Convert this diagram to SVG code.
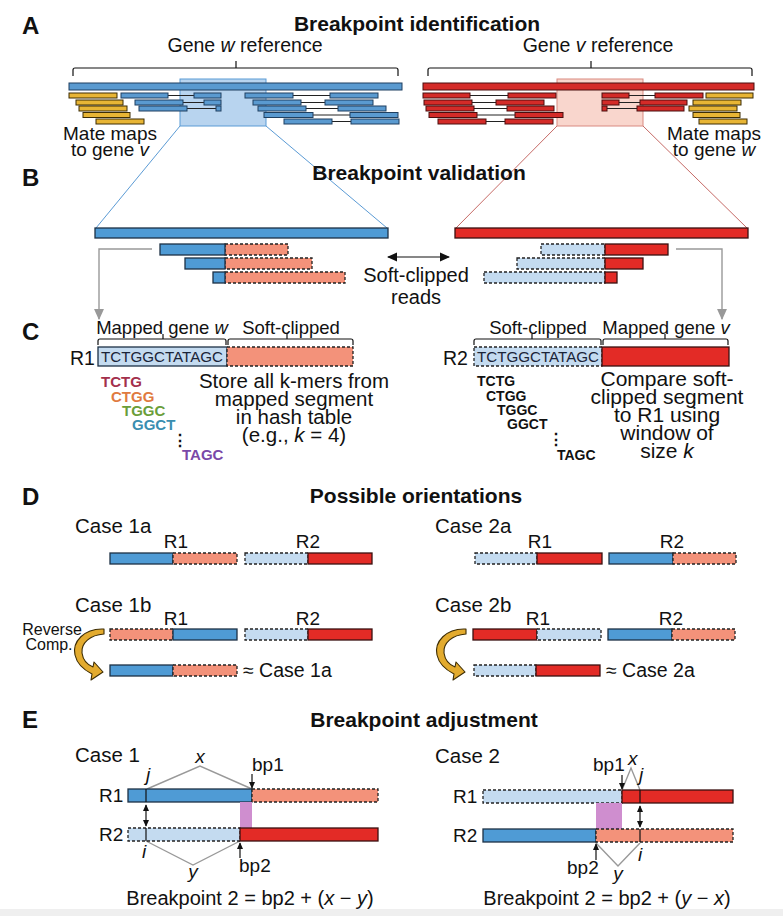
<svg xmlns="http://www.w3.org/2000/svg" width="783" height="916" viewBox="0 0 783 916">
<style>
text{font-family:"Liberation Sans",Arial,sans-serif;font-size:19px;fill:#111}
.sec{font-weight:bold;font-size:24px}
.ttl{font-weight:bold;font-size:21px}
.it{font-style:italic}
.mid{text-anchor:middle}
.big{font-size:20.5px}
.km{font-weight:bold;font-size:15px}
.seq{font-size:15px;fill:#1a2438}
.rb{fill:#4f9bd5;stroke:#1d3146;stroke-width:1.3}
.rr{fill:#e32b26;stroke:#3a1010;stroke-width:1.3}
.ds{fill:#f3927a;stroke:#222;stroke-width:1.3;stroke-dasharray:3 2}
.dl{fill:#c4dbf0;stroke:#222;stroke-width:1.3;stroke-dasharray:3 2}
.ay{fill:#e8b535;stroke:#3d2d05;stroke-width:1}
.ab{fill:#5a9ad0;stroke:#1f3f60;stroke-width:1}
.ar{fill:#d42b28;stroke:#4a0e0e;stroke-width:1}
.pl{stroke:#222;stroke-width:1;fill:none}
.br{stroke:#111;stroke-width:1.2;fill:none}
.gr{stroke:#999;stroke-width:1.4;fill:none}
.ln{stroke:#111;stroke-width:1.2;fill:none}
.pk{fill:#cf8ecf}
.cv{fill:#e3ab2e;stroke:#3d2d05;stroke-width:1.1;stroke-linejoin:round}
</style>
<defs>
<marker id="ak" viewBox="0 0 10 10" refX="9" refY="5" markerUnits="userSpaceOnUse" markerWidth="7" markerHeight="7" orient="auto-start-reverse"><path d="M0,0.5 L10,5 L0,9.5 z" fill="#111"/></marker>
<marker id="ak2" viewBox="0 0 10 10" refX="9" refY="5" markerUnits="userSpaceOnUse" markerWidth="10" markerHeight="10" orient="auto-start-reverse"><path d="M0,0.5 L10,5 L0,9.5 z" fill="#111"/></marker>
<marker id="ag" viewBox="0 0 10 10" refX="9" refY="5" markerUnits="userSpaceOnUse" markerWidth="11" markerHeight="11" orient="auto"><path d="M0,0.5 L10,5 L0,9.5 z" fill="#999"/></marker>
<path id="curl" class="cv" d="M104,629 C84,628 72,642 75,655 C77,664 84,670 92,674 L91,680 L103,672 L94,662 L93,667 C88,665 83,660 82,653 C81,643 90,635 104,634 Z"/>
</defs>
<rect width="783" height="916" fill="#fff"/>
<rect x="0" y="909" width="783" height="7" fill="#efefef"/>

<!-- Section A -->
<g id="secA">
<text class="sec" x="22" y="34">A</text>
<text class="ttl mid" x="417" y="31">Breakpoint identification</text>
<text class="mid" x="245" y="52" style="font-size:19.5px">Gene <tspan class="it">w</tspan> reference</text>
<text class="mid" x="598" y="52" style="font-size:19.5px">Gene <tspan class="it">v</tspan> reference</text>
<path class="br" d="M73,76 V70 Q73,68 75,68 H396 Q398,68 398,70 V76 M236,68 V61"/>
<path class="br" d="M428,76 V70 Q428,68 430,68 H750 Q752,68 752,70 V76 M591,68 V61"/>
</g>

<g id="geneW">
<rect x="180" y="79" width="86" height="47" fill="#b8d4ef" stroke="#5b9bd5" stroke-width="1"/>
<rect x="69" y="83" width="333" height="7" class="ab"/>
<g class="pl">
<line x1="168" y1="95.5" x2="194" y2="95.5"/><line x1="293" y1="95.5" x2="330" y2="95.5"/>
<line x1="183" y1="102.5" x2="204" y2="102.5"/><line x1="301" y1="102.5" x2="325" y2="102.5"/>
<line x1="187" y1="108.5" x2="216" y2="108.5"/><line x1="306" y1="108.5" x2="338" y2="108.5"/>
<line x1="313" y1="115" x2="350" y2="115"/>
<line x1="332" y1="121.5" x2="351" y2="121.5"/>
</g>
<rect class="ay" x="69" y="93" width="48" height="5"/>
<rect class="ay" x="76" y="100" width="47" height="5"/>
<rect class="ay" x="79" y="106" width="48" height="5"/>
<rect class="ay" x="83" y="112.5" width="47" height="5"/>
<rect class="ay" x="96" y="119" width="48" height="5"/>
<rect class="ab" x="121" y="93" width="47" height="5"/><rect class="ab" x="194" y="93" width="27" height="5"/>
<rect class="ab" x="245" y="93" width="48" height="5"/><rect class="ab" x="330" y="93" width="48" height="5"/>
<rect class="ab" x="135" y="100" width="48" height="5"/><rect class="ab" x="204" y="100" width="17" height="5"/>
<rect class="ab" x="253" y="100" width="48" height="5"/><rect class="ab" x="325" y="100" width="48" height="5"/>
<rect class="ab" x="139" y="106" width="48" height="5"/><rect class="ab" x="216" y="106" width="5" height="5"/>
<rect class="ab" x="258" y="106" width="48" height="5"/><rect class="ab" x="338" y="106" width="48" height="5"/>
<rect class="ab" x="264" y="112.5" width="49" height="5"/><rect class="ab" x="350" y="112.5" width="48" height="5"/>
<rect class="ab" x="284" y="119" width="48" height="5"/><rect class="ab" x="351" y="119" width="48" height="5"/>
<text class="mid" x="110" y="140">Mate maps<tspan x="110" dy="16">to gene </tspan><tspan class="it">v</tspan></text>
</g>

<g id="geneV">
<rect x="557" y="79" width="86" height="47" fill="#f9d6cd" stroke="#d98a80" stroke-width="1"/>
<rect x="423" y="83" width="331" height="7" class="ar"/>
<g class="pl">
<line x1="470" y1="95.5" x2="508" y2="95.5"/><line x1="629" y1="95.5" x2="655" y2="95.5"/>
<line x1="472" y1="102.5" x2="496" y2="102.5"/><line x1="619" y1="102.5" x2="640" y2="102.5"/>
<line x1="474" y1="108.5" x2="507" y2="108.5"/><line x1="607" y1="108.5" x2="637" y2="108.5"/>
<line x1="477" y1="115" x2="515" y2="115"/>
<line x1="486" y1="121.5" x2="505" y2="121.5"/>
</g>
<rect class="ar" x="423" y="93" width="47" height="5"/><rect class="ar" x="508" y="93" width="48" height="5"/>
<rect class="ar" x="602" y="93" width="27" height="5"/><rect class="ar" x="655" y="93" width="48" height="5"/>
<rect class="ar" x="424" y="100" width="48" height="5"/><rect class="ar" x="496" y="100" width="48" height="5"/>
<rect class="ar" x="602" y="100" width="17" height="5"/><rect class="ar" x="640" y="100" width="47" height="5"/>
<rect class="ar" x="426" y="106" width="48" height="5"/><rect class="ar" x="507" y="106" width="47" height="5"/>
<rect class="ar" x="602" y="106" width="5" height="5"/><rect class="ar" x="637" y="106" width="47" height="5"/>
<rect class="ar" x="429" y="112.5" width="48" height="5"/><rect class="ar" x="515" y="112.5" width="48" height="5"/>
<rect class="ar" x="438" y="119" width="48" height="5"/><rect class="ar" x="505" y="119" width="48" height="5"/>
<rect class="ay" x="706" y="93" width="47" height="5"/>
<rect class="ay" x="693" y="100" width="48" height="5"/>
<rect class="ay" x="689" y="106" width="48" height="5"/>
<rect class="ay" x="693" y="112.5" width="47" height="5"/>
<rect class="ay" x="699" y="119" width="48" height="5"/>
<text class="mid" x="714" y="140">Mate maps<tspan x="714" dy="16">to gene </tspan><tspan class="it">w</tspan></text>
</g>

<!-- connectors -->
<g id="connectors">
<line x1="180" y1="126" x2="96" y2="228" stroke="#5b9bd5" stroke-width="1"/>
<line x1="266" y1="126" x2="387" y2="228" stroke="#5b9bd5" stroke-width="1"/>
<line x1="557" y1="126" x2="456" y2="228" stroke="#c66a66" stroke-width="1"/>
<line x1="643" y1="126" x2="747" y2="228" stroke="#c66a66" stroke-width="1"/>
<path class="gr" d="M152,249 H99 V319" marker-end="url(#ag)"/>
<path class="gr" d="M676,249 H722 V319" marker-end="url(#ag)"/>
<line class="ln" x1="388" y1="257" x2="449" y2="257" stroke-width="1.5" marker-start="url(#ak2)" marker-end="url(#ak2)"/>
</g>

<!-- Section B -->
<g id="secB">
<text class="sec" x="22" y="186">B</text>
<text class="ttl mid" x="419" y="180">Breakpoint validation</text>
<rect class="rb" x="95" y="228" width="293" height="10"/>
<rect class="rr" x="455" y="228" width="293" height="10"/>
<rect class="ds" x="225" y="244" width="63" height="11"/><rect class="rb" x="160" y="244" width="65" height="11"/>
<rect class="ds" x="225" y="258" width="87" height="11"/><rect class="rb" x="185" y="258" width="40" height="11"/>
<rect class="ds" x="225" y="272" width="120" height="11"/><rect class="rb" x="213" y="272" width="12" height="11"/>
<rect class="dl" x="541" y="244" width="64" height="11"/><rect class="rr" x="605" y="244" width="63" height="11"/>
<rect class="dl" x="517" y="258" width="88" height="11"/><rect class="rr" x="605" y="258" width="38" height="11"/>
<rect class="dl" x="484" y="272" width="121" height="11"/><rect class="rr" x="605" y="272" width="12" height="11"/>
<text class="mid" x="416" y="282" style="font-size:20px">Soft-clipped<tspan x="416" dy="22">reads</tspan></text>
</g>

<!-- Section C -->
<g id="secC_R1">
<text class="sec" x="22" y="340">C</text>
<text class="mid" x="162" y="334" style="font-size:18.5px">Mapped gene <tspan class="it">w</tspan></text>
<text class="mid" x="291" y="334" style="font-size:18.5px">Soft-clipped</text>
<path class="br" d="M98,345 V341 Q98,339 100,339 H224 Q226,339 226,341 V345 M163,339 V334"/>
<path class="br" d="M228,345 V341 Q228,339 230,339 H351 Q353,339 353,341 V345 M287,339 V334"/>
<text x="70" y="365" style="font-size:19.5px">R1</text>
<rect x="98" y="347" width="129" height="19" fill="#c4dbf0" stroke="#1d3146" stroke-width="1.3"/>
<rect class="ds" x="227" y="347" width="126" height="19"/>
<text class="seq" x="101" y="362" textLength="122" lengthAdjust="spacingAndGlyphs">TCTGGCTATAGC</text>
<text class="km" x="101" y="387" style="fill:#a3304c">TCTG</text>
<text class="km" x="111" y="402" style="fill:#e07a40">CTGG</text>
<text class="km" x="122" y="416" style="fill:#6a9e3a">TGGC</text>
<text class="km" x="132" y="430" style="fill:#3a8eb0">GGCT</text>
<text class="km" x="172" y="446" style="font-size:16px">⋮</text>
<text class="km" x="182" y="460" style="fill:#7a48a8">TAGC</text>
<text class="mid" x="294" y="388" style="font-size:20.5px">Store all k-mers from<tspan x="294" dy="18">mapped segment</tspan><tspan x="294" dy="18">in hash table</tspan><tspan x="294" dy="18">(e.g., </tspan><tspan class="it">k</tspan> = 4)</text>
</g>

<g id="secC_R2">
<text class="mid" x="538" y="334" style="font-size:18.5px">Soft-clipped</text>
<text class="mid" x="666" y="334" style="font-size:18.5px">Mapped gene <tspan class="it">v</tspan></text>
<path class="br" d="M474,345 V341 Q474,339 476,339 H599 Q601,339 601,341 V345 M532,339 V334"/>
<path class="br" d="M603,345 V341 Q603,339 605,339 H726 Q728,339 728,341 V345 M665,339 V334"/>
<text x="443" y="365" style="font-size:19.5px">R2</text>
<rect class="dl" x="474" y="347" width="128" height="19"/>
<rect class="rr" x="602" y="347" width="127" height="19"/>
<text class="seq" x="477" y="362" textLength="122" lengthAdjust="spacingAndGlyphs">TCTGGCTATAGC</text>
<text class="km" x="477" y="386" style="font-size:14px">TCTG</text>
<text class="km" x="486" y="401" style="font-size:14px">CTGG</text>
<text class="km" x="497" y="415" style="font-size:14px">TGGC</text>
<text class="km" x="507" y="429" style="font-size:14px">GGCT</text>
<text class="km" x="548" y="445" style="font-size:16px">⋮</text>
<text class="km" x="557" y="460" style="font-size:14px">TAGC</text>
<text class="mid" x="667" y="386" style="font-size:21px">Compare soft-<tspan x="667" dy="18">clipped segment</tspan><tspan x="667" dy="18">to R1 using</tspan><tspan x="667" dy="18">window of</tspan><tspan x="667" dy="18">size </tspan><tspan class="it">k</tspan></text>
</g>

<!-- Section D -->
<g id="secD_title">
<text class="sec" x="22" y="505">D</text>
<text class="ttl mid" x="416" y="503">Possible orientations</text>
</g>
<g id="case1a">
<text class="big" x="75" y="533">Case 1a</text>
<text class="mid" x="176" y="548">R1</text>
<text class="mid" x="308" y="548">R2</text>
<rect class="rb" x="110" y="553" width="63" height="11"/><rect class="ds" x="173" y="553" width="64" height="11"/>
<rect class="dl" x="245" y="553" width="63" height="11"/><rect class="rr" x="308" y="553" width="64" height="11"/>
</g>
<g id="case1b">
<text class="big" x="75" y="612">Case 1b</text>
<text class="mid" x="176" y="625">R1</text>
<text class="mid" x="308" y="625">R2</text>
<rect class="ds" x="110" y="629" width="63" height="11"/><rect class="rb" x="173" y="629" width="64" height="11"/>
<rect class="dl" x="245" y="629" width="63" height="11"/><rect class="rr" x="308" y="629" width="64" height="11"/>
<text class="mid" x="52" y="635" style="font-size:16px">Reverse<tspan x="49" dy="15">Comp.</tspan></text>
<use href="#curl"/>
<rect class="rb" x="110" y="665" width="63" height="11"/><rect class="ds" x="173" y="665" width="64" height="11"/>
<text x="243" y="677" style="font-size:19.5px">≈ Case 1a</text>
</g>
<g id="case2a">
<text class="big" x="435" y="533">Case 2a</text>
<text class="mid" x="540" y="548">R1</text>
<text class="mid" x="672" y="548">R2</text>
<rect class="dl" x="475" y="553" width="62" height="11"/><rect class="rr" x="537" y="553" width="65" height="11"/>
<rect class="rb" x="609" y="553" width="64" height="11"/><rect class="ds" x="673" y="553" width="63" height="11"/>
</g>
<g id="case2b">
<text class="big" x="435" y="612">Case 2b</text>
<text class="mid" x="538" y="625">R1</text>
<text class="mid" x="671" y="625">R2</text>
<rect class="rr" x="473" y="629" width="64" height="11"/><rect class="dl" x="537" y="629" width="64" height="11"/>
<rect class="rb" x="608" y="629" width="64" height="11"/><rect class="ds" x="672" y="629" width="63" height="11"/>
<use href="#curl" transform="translate(362,0)"/>
<rect class="dl" x="474" y="665" width="62" height="11"/><rect class="rr" x="536" y="665" width="64" height="11"/>
<text x="606" y="677" style="font-size:19.5px">≈ Case 2a</text>
</g>

<!-- Section E -->
<g id="secE_title">
<text class="sec" x="22" y="728">E</text>
<text class="ttl mid" x="424" y="727">Breakpoint adjustment</text>
</g>
<g id="case1">
<text class="big" x="75" y="762">Case 1</text>
<polyline class="gr" points="147,789 200,766 252,789"/>
<polyline class="gr" points="146,841 193,865 240,841"/>
<text class="it mid" x="200" y="763">x</text>
<text x="252" y="771">bp1</text>
<text class="it mid" x="148" y="781">j</text>
<line class="ln" x1="252" y1="774" x2="252" y2="788" marker-end="url(#ak)"/>
<text x="99" y="802">R1</text>
<rect class="rb" x="128" y="789" width="124" height="13"/>
<rect class="ds" x="252" y="789" width="126" height="13"/>
<line class="ln" x1="146" y1="789" x2="146" y2="802" stroke-width="1.6"/>
<rect class="pk" x="240" y="802" width="12" height="26"/>
<line class="ln" x1="146" y1="805" x2="146" y2="826" marker-start="url(#ak)" marker-end="url(#ak)"/>
<text x="99" y="841">R2</text>
<rect class="dl" x="128" y="828" width="112" height="13"/>
<rect class="rr" x="240" y="828" width="138" height="13"/>
<line class="ln" x1="146" y1="828" x2="146" y2="841" stroke-width="1.6"/>
<text class="it mid" x="144" y="858">i</text>
<line class="ln" x1="240" y1="858" x2="240" y2="843" marker-end="url(#ak)"/>
<text x="239" y="872">bp2</text>
<text class="it mid" x="193" y="878">y</text>
<text class="mid" x="250" y="905" style="font-size:20px">Breakpoint 2 = bp2 + (<tspan class="it">x</tspan> − <tspan class="it">y</tspan>)</text>
</g>
<g id="case2">
<text class="big" x="435" y="763">Case 2</text>
<polyline class="gr" points="622,790 631,768 640,790"/>
<polyline class="gr" points="596,843 618,866 640,843"/>
<text x="593" y="771">bp1</text>
<text class="it" x="628" y="765">x</text>
<text class="it" x="639" y="781">j</text>
<line class="ln" x1="622" y1="775" x2="622" y2="789" marker-end="url(#ak)"/>
<text x="453" y="803">R1</text>
<rect class="dl" x="483" y="790" width="139" height="13"/>
<rect class="rr" x="622" y="790" width="111" height="13"/>
<line class="ln" x1="640" y1="790" x2="640" y2="803" stroke-width="1.6"/>
<rect class="pk" x="596" y="803" width="26" height="26"/>
<line class="ln" x1="640" y1="806" x2="640" y2="827" marker-start="url(#ak)" marker-end="url(#ak)"/>
<text x="453" y="842">R2</text>
<rect class="rb" x="483" y="829" width="113" height="13"/>
<rect class="ds" x="596" y="829" width="137" height="13"/>
<line class="ln" x1="640" y1="829" x2="640" y2="842" stroke-width="1.6"/>
<text class="it mid" x="640" y="861">i</text>
<line class="ln" x1="596" y1="860" x2="596" y2="844" marker-end="url(#ak)"/>
<text x="567" y="874">bp2</text>
<text class="it mid" x="618" y="880">y</text>
<text class="mid" x="607" y="905" style="font-size:20px">Breakpoint 2 = bp2 + (<tspan class="it">y</tspan> − <tspan class="it">x</tspan>)</text>
</g>
</svg>
